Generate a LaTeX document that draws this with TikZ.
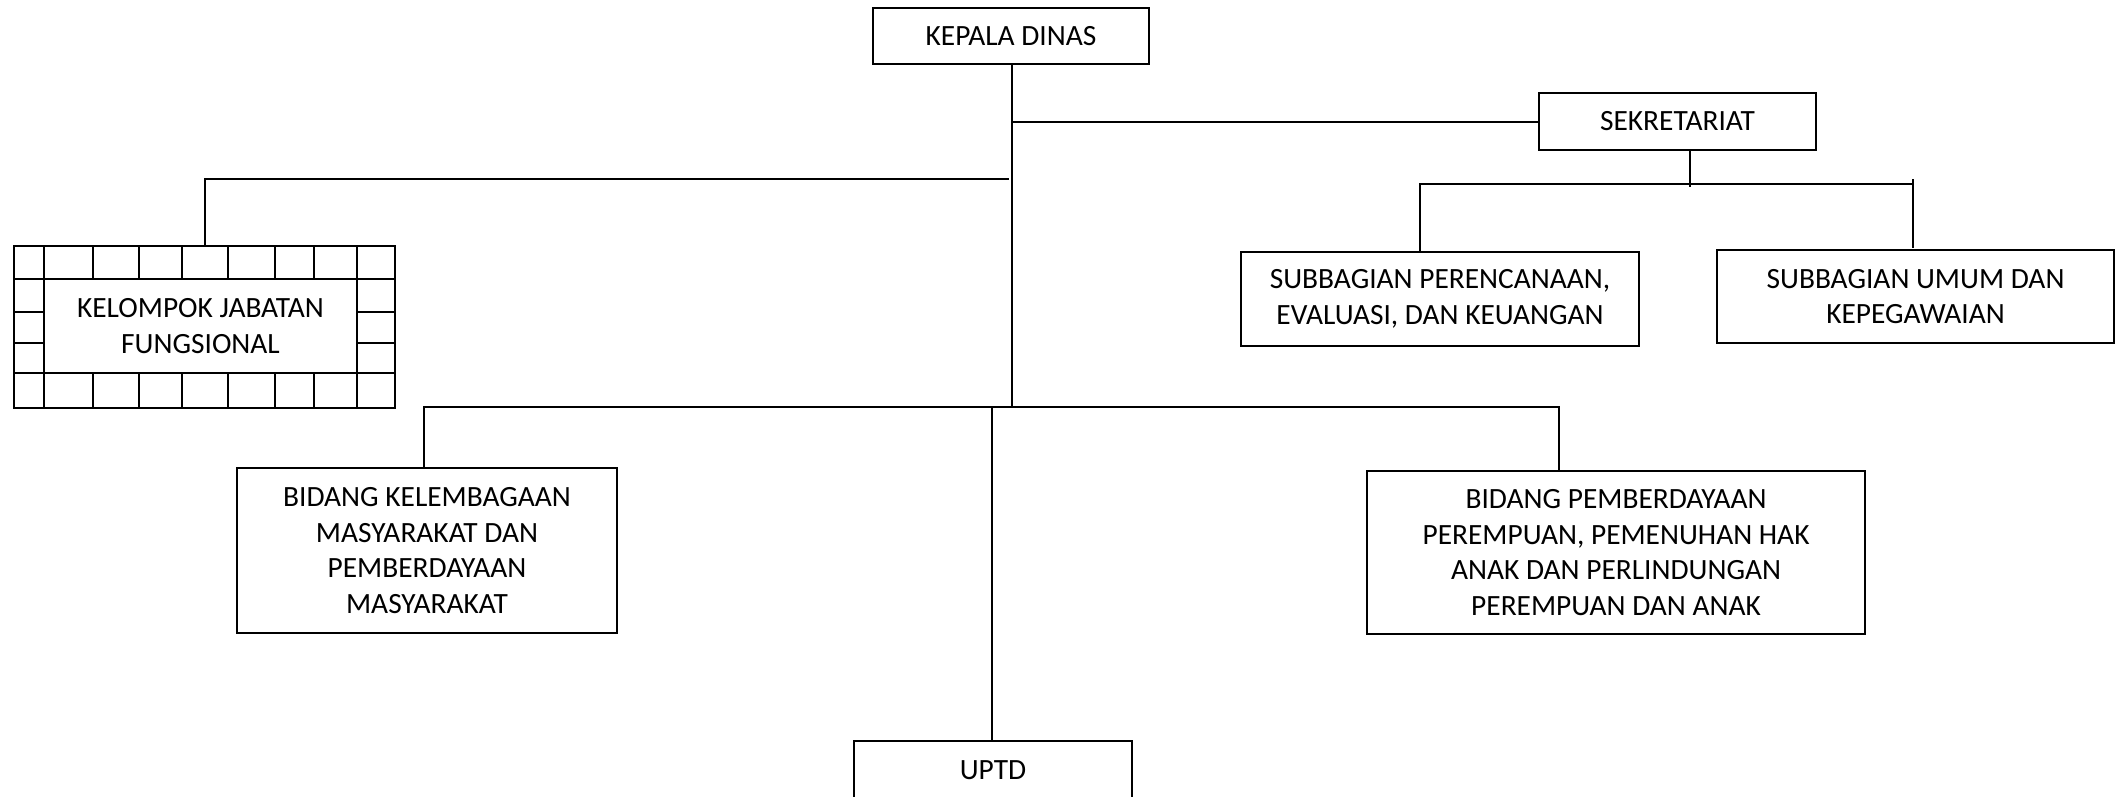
\documentclass[tikz,border=0pt]{standalone}
\usepackage{fontspec}
\setmainfont{Carlito}
\begin{document}
\begin{tikzpicture}[x=1pt,y=-1pt,line width=2pt,
  box/.style={draw,line width=2pt,align=center,inner sep=0pt,outer sep=0pt,font=\fontsize{29.4}{35.5}\selectfont},
  conn/.style={line width=2pt,line cap=rect},
  grid/.style={line width=2pt}]
\useasboundingbox (0,0) rectangle (2116,796);

% boxes
\node[box,minimum width=276pt,minimum height=56pt] (kd) at (1011,36) {KEPALA DINAS};
\node[box,minimum width=277pt,minimum height=57pt] (sek) at (1677.5,121.5) {SEKRETARIAT};
\node[box,minimum width=398pt,minimum height=94pt] (subper) at (1440,299) {SUBBAGIAN PERENCANAAN,\\EVALUASI, DAN KEUANGAN};
\node[box,minimum width=397pt,minimum height=93pt] (subum) at (1915.5,296.5) {SUBBAGIAN UMUM DAN\\KEPEGAWAIAN};
\node[box,minimum width=381pt,minimum height=162pt] (kjf) at (204.5,327) {};
\node[box,minimum width=313pt,minimum height=94pt] (kjfin) at (200.5,326) {KELOMPOK JABATAN\\FUNGSIONAL};
\node[box,minimum width=380pt,minimum height=165pt] (bk) at (427,550.5) {BIDANG KELEMBAGAAN\\MASYARAKAT DAN\\PEMBERDAYAAN\\MASYARAKAT};
\node[box,minimum width=498pt,minimum height=163pt] (bp) at (1616,552.5) {BIDANG PEMBERDAYAAN\\PEREMPUAN, PEMENUHAN HAK\\ANAK DAN PERLINDUNGAN\\PEREMPUAN DAN ANAK};
\node[box,minimum width=278pt,minimum height=59pt] (uptd) at (993,770.5) {UPTD};

% grid of the KJF frame
\draw[grid] (kjf.west |- kjfin.north) -- (kjf.east |- kjfin.north);
\draw[grid] (kjf.west |- kjfin.south) -- (kjf.east |- kjfin.south);
\draw[grid] (kjfin.west |- kjf.north) -- (kjfin.west |- kjf.south);
\draw[grid] (kjfin.east |- kjf.north) -- (kjfin.east |- kjf.south);
\foreach \x in {93,139,182,228,275,314} {
  \draw[grid] (\x,246) -- (\x,279);
  \draw[grid] (\x,373) -- (\x,408);
}
\foreach \y in {312,343} {
  \draw[grid] (14,\y) -- (44,\y);
  \draw[grid] (357,\y) -- (395,\y);
}

% connectors
\coordinate (kdb) at (1012,405);
\draw[conn] (kdb |- kd.south) -- (kdb);
\draw[conn] (kdb |- sek.west) -- (sek.west);

\coordinate (lb) at (1008,179);
\draw[conn] (lb) -- (lb -| kjf.north) -- (kjf.north);

\coordinate (s1) at (1690,186);
\draw[conn] (s1 |- sek.south) -- (s1);
\coordinate (hl) at (1420,184);
\coordinate (hr) at (1913,184);
\draw[conn] (hl) -- (hr);
\draw[conn] (hl) -- (hl |- subper.north);
\coordinate (hrt) at (1913,180);
\coordinate (hrb) at (1913,247);
\draw[conn] (hrt) -- (hrb);

\coordinate (bl) at (424,407);
\coordinate (br) at (1559,407);
\coordinate (bu) at (992,407);
\draw[conn] (bl) -- (br);
\draw[conn] (bl) -- (bl |- bk.north);
\draw[conn] (br) -- (br |- bp.north);
\draw[conn] (bu) -- (bu |- uptd.north);
\end{tikzpicture}
\end{document}
